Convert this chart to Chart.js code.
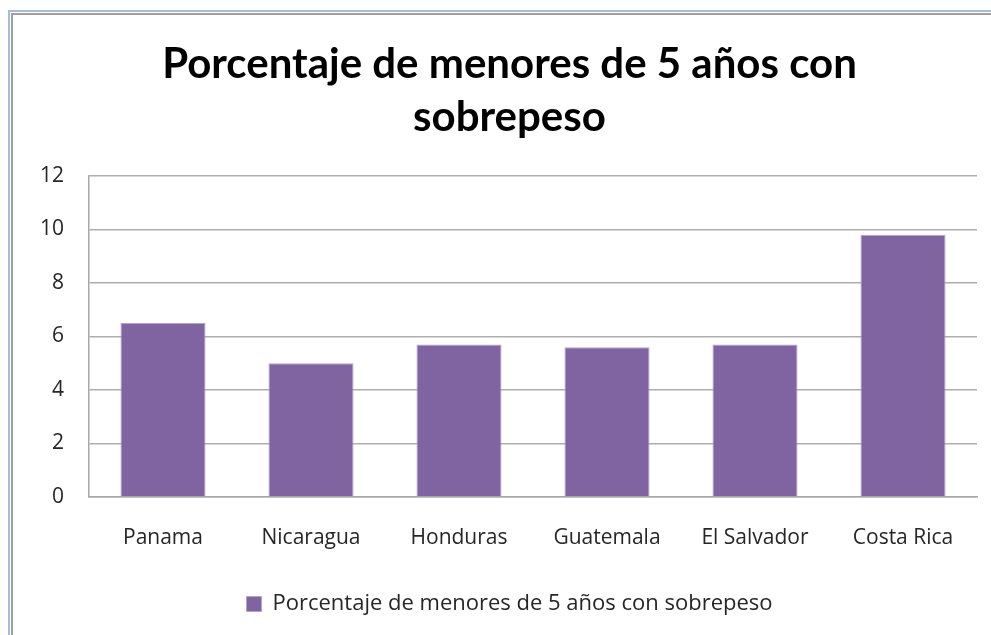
<!DOCTYPE html>
<html>
<head>
<meta charset="utf-8">
<script src="https://cdn.jsdelivr.net/npm/chart.js@4"></script>
<style>
  html, body { margin: 0; padding: 0; background: #fff; }
  #wrap { width: 991px; height: 635px; position: relative; }
</style>
</head>
<body>
<div id="wrap"><canvas id="chart" width="991" height="635"></canvas></div>
<script>
// chart data
const countries = ["Panama", "Nicaragua", "Honduras", "Guatemala", "El Salvador", "Costa Rica"];
const overweight = [6.5, 5.0, 5.7, 5.6, 5.7, 9.8];
const seriesName = "Porcentaje de menores de 5 años con sobrepeso";
const titleLines = ["Porcentaje de menores de 5 años con", "sobrepeso"];

// draws the outer frame of the chart (blue + grey edge on left and top)
const frame = {
  id: 'frame',
  beforeDraw(chart) {
    const c = chart.ctx;
    const w = chart.width, h = chart.height;
    c.save();
    c.fillStyle = '#fff';
    c.fillRect(0, 0, w, h);
    c.lineWidth = 2;
    c.strokeStyle = '#A7BCDD';
    c.beginPath();
    c.moveTo(9, h); c.lineTo(9, 11); c.lineTo(w, 11);
    c.stroke();
    c.strokeStyle = '#A0A0A0';
    c.beginPath();
    c.moveTo(12, h); c.lineTo(12, 14); c.lineTo(w, 14);
    c.stroke();
    c.restore();
  }
};

const ctx = document.getElementById('chart').getContext('2d');
new Chart(ctx, {
  type: 'bar',
  data: {
    labels: countries,
    datasets: [{
      label: seriesName,
      data: overweight,
      backgroundColor: '#8064A2',
      borderColor: '#B3A2CC',
      borderWidth: 1,
      categoryPercentage: 1,
      barPercentage: 0.575
    }]
  },
  plugins: [frame],
  options: {
    responsive: false,
    animation: false,
    layout: { padding: { left: 28, right: 0, top: 0, bottom: 10 } },
    plugins: {
      title: {
        display: true,
        text: titleLines,
        color: '#000',
        font: { family: 'Lato', size: 42, weight: 'bold', lineHeight: 1.26 },
        padding: { top: 38, bottom: 32 }
      },
      legend: {
        position: 'bottom',
        labels: {
          color: '#262626',
          font: { family: 'Open Sans', size: 22 },
          boxWidth: 15,
          boxHeight: 15,
          padding: 10
        }
      },
      tooltip: { enabled: false }
    },
    scales: {
      x: {
        grid: { display: false },
        border: { display: true, color: '#A8A8A8', width: 1.5 },
        ticks: {
          color: '#262626',
          font: { family: 'Open Sans', size: 21 },
          padding: 20,
          maxRotation: 0
        },
        afterFit(scale) { scale.height = 86; }
      },
      y: {
        min: 0,
        max: 12,
        ticks: {
          stepSize: 2,
          color: '#262626',
          font: { family: 'Open Sans', size: 21 },
          padding: 25
        },
        grid: { color: '#AEAEAE', lineWidth: 1.5, drawTicks: false },
        border: { display: true, color: '#A8A8A8', width: 1.5 },
        afterFit(scale) { scale.width = 61; }
      },
      // empty right-hand spacer so the plot ends where the reference does
      spacer: {
        position: 'right',
        ticks: { display: false },
        grid: { display: false },
        border: { display: false },
        afterFit(scale) { scale.width = 14; }
      }
    }
  }
});
</script>
</body>
</html>
